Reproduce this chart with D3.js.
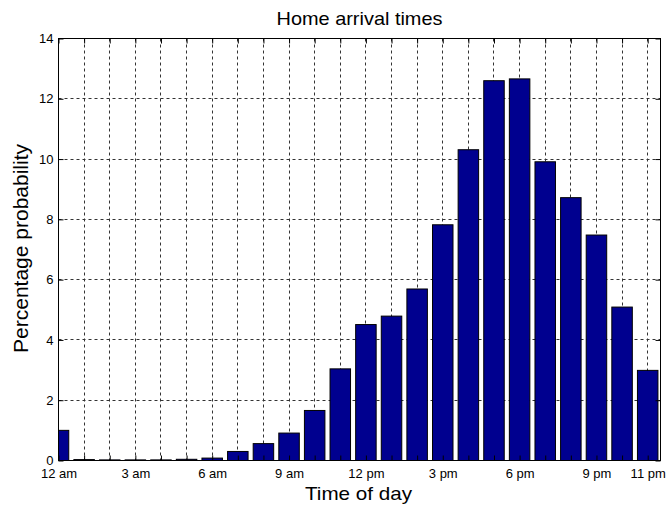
<!DOCTYPE html>
<html><head><meta charset="utf-8">
<script src="https://cdn.jsdelivr.net/npm/d3@7"></script>
<style>
body{margin:0;background:#fff;}
svg text{font-family:Arial,"Liberation Sans",sans-serif;fill:#000;}
</style>
</head><body>
<svg id="c" width="667" height="508"></svg>
<script>
// ---- data ----
const hours = [0,1,2,3,4,5,6,7,8,9,10,11,12,13,14,15,16,17,18,19,20,21,22,23];
const hourLabels = ["12 am","","","3 am","","","6 am","","","9 am","","","12 pm","","","3 pm","","","6 pm","","","9 pm","","11 pm"];
const probability = [1.00,0.03,0.02,0.02,0.02,0.04,0.08,0.30,0.56,0.91,1.66,3.04,4.51,4.79,5.69,7.82,10.31,12.60,12.66,9.91,8.72,7.48,5.09,2.99];
const yTicks = [0,2,4,6,8,10,12,14];
const yGrid = [2,4,6,8,10,12];
const chartTitle = "Home arrival times";
const xTitle = "Time of day";
const yTitle = "Percentage probability";

// ---- layout ----
const L = 58.5, R = 660.5, T = 38.5, B = 460.5;
const svg = d3.select("#c");
const x = d3.scaleLinear().domain([0, 23.5]).range([L, R]);
const y = d3.scaleLinear().domain([0, 14]).range([B, T]);
const snap = v => Math.round(v - 0.5) + 0.5;

svg.append("rect").attr("width", 667).attr("height", 508).attr("fill", "#fff");

svg.append("defs").append("clipPath").attr("id", "plotclip")
  .append("rect").attr("x", L).attr("y", T).attr("width", R - L).attr("height", B - T);

// grid
const grid = svg.append("g").attr("stroke", "#333").attr("stroke-width", 1).attr("stroke-dasharray", "3,3");
grid.selectAll("line.v").data(hours.filter(h => h > 0)).join("line").attr("class", "v")
  .attr("x1", d => snap(x(d))).attr("x2", d => snap(x(d)))
  .attr("y1", T).attr("y2", B);
grid.selectAll("line.h").data(yGrid).join("line").attr("class", "h")
  .attr("y1", d => snap(y(d))).attr("y2", d => snap(y(d)))
  .attr("x1", L).attr("x2", R);

// bars
const bw = x(0.8) - x(0);
svg.append("g").attr("clip-path", "url(#plotclip)")
  .selectAll("rect").data(hours).join("rect")
  .attr("x", (d) => x(d - 0.4))
  .attr("width", bw)
  .attr("y", (d, i) => y(probability[i]))
  .attr("height", (d, i) => y(0) - y(probability[i]))
  .attr("fill", "#00008F")
  .attr("stroke", "#000")
  .attr("stroke-width", 1);

// axes
function styleAxis(g) {
  g.select(".domain").remove();
  g.selectAll(".tick line").attr("stroke", "#000");
  g.selectAll(".tick text").attr("font-size", "13px").attr("fill", "#000");
}
svg.append("g").attr("transform", `translate(0,${B})`)
  .call(d3.axisBottom(x).tickValues(hours).tickFormat((d, i) => hourLabels[i])
    .tickSizeInner(-5).tickSizeOuter(0).tickPadding(8))
  .call(styleAxis).attr("font-family", null);
svg.append("g").attr("transform", `translate(0,${T})`)
  .call(d3.axisTop(x).tickValues(hours).tickFormat("").tickSizeInner(-5).tickSizeOuter(0))
  .call(styleAxis);
svg.append("g").attr("transform", `translate(${L},0)`)
  .call(d3.axisLeft(y).tickValues(yTicks).tickFormat(d3.format("d"))
    .tickSizeInner(-5).tickSizeOuter(0).tickPadding(5))
  .call(styleAxis).attr("font-family", null);
svg.append("g").attr("transform", `translate(${R},0)`)
  .call(d3.axisRight(y).tickValues(yTicks).tickFormat("").tickSizeInner(-5).tickSizeOuter(0))
  .call(styleAxis);

// border box
svg.append("rect").attr("x", L).attr("y", T).attr("width", R - L).attr("height", B - T)
  .attr("fill", "none").attr("stroke", "#000").attr("stroke-width", 1);

// titles
svg.append("text").attr("x", (L + R) / 2).attr("y", 25).attr("text-anchor", "middle")
  .attr("font-size", "19px").attr("textLength", 166).attr("lengthAdjust", "spacingAndGlyphs")
  .text(chartTitle);
svg.append("text").attr("x", (L + R) / 2 - 1).attr("y", 500).attr("text-anchor", "middle")
  .attr("font-size", "19px").attr("textLength", 107).attr("lengthAdjust", "spacingAndGlyphs")
  .text(xTitle);
svg.append("text").attr("transform", `translate(28,${(T + B) / 2 - 1}) rotate(-90)`)
  .attr("text-anchor", "middle")
  .attr("font-size", "20px").attr("textLength", 209).attr("lengthAdjust", "spacingAndGlyphs")
  .text(yTitle);
</script>
</body></html>
